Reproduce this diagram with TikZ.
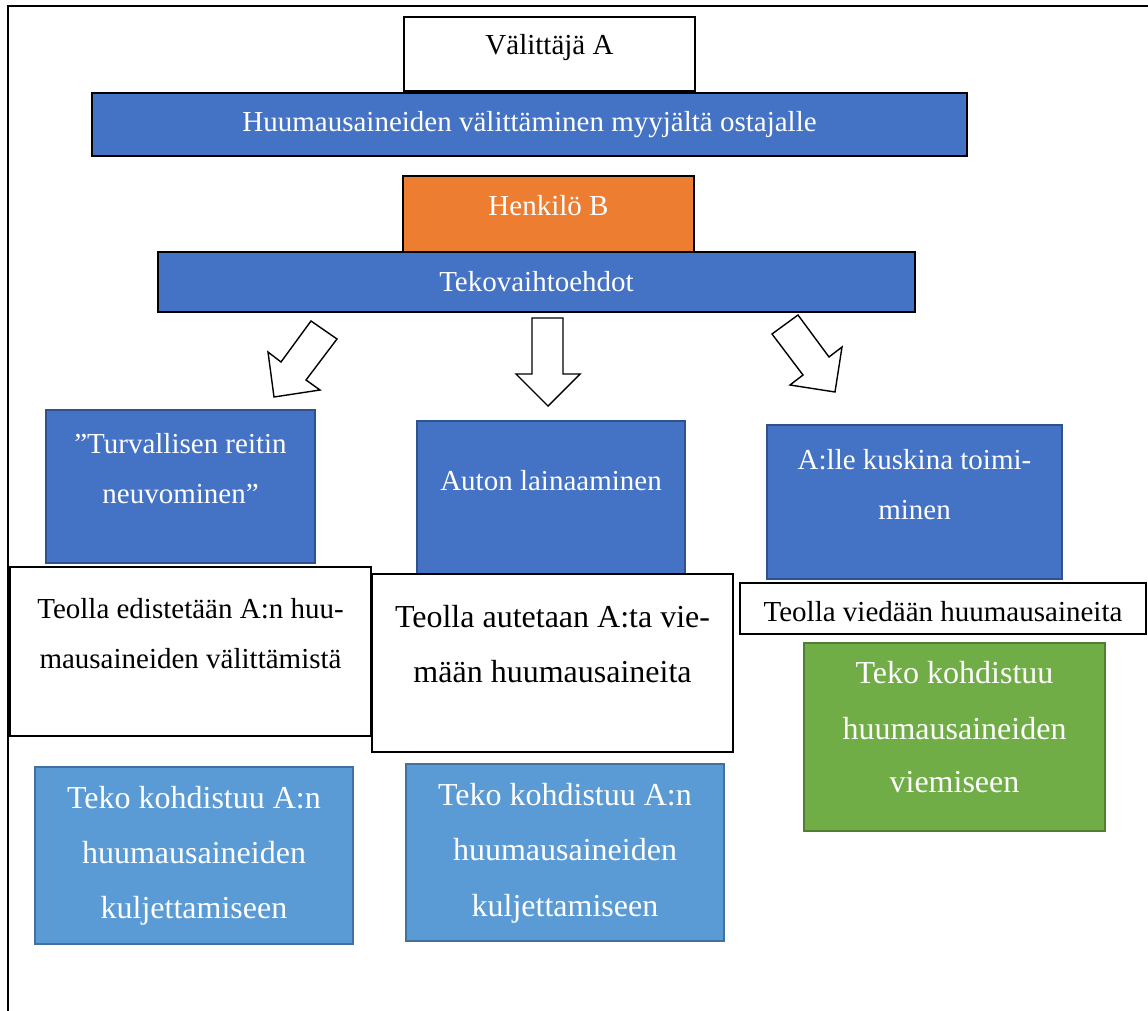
\documentclass[tikz,border=0pt]{standalone}
\usepackage{fontspec}
\setmainfont{Liberation Serif}
\usetikzlibrary{fit}
\definecolor{wblue}{HTML}{4472C4}
\definecolor{wblueline}{HTML}{2F528F}
\definecolor{worange}{HTML}{ED7D31}
\definecolor{wlight}{HTML}{5B9BD5}
\definecolor{wlightline}{HTML}{41719C}
\definecolor{wgreen}{HTML}{70AD47}
\definecolor{wgreenline}{HTML}{507E32}

\begin{document}
\begin{tikzpicture}[x=1pt,y=-1pt,
  panel/.style={inner sep=0pt, outer sep=0pt},
  whitebox/.style={panel, draw=black, line width=1.6pt, fill=white},
  barbox/.style={panel, draw=black, line width=1.6pt, fill=wblue},
  orangebox/.style={panel, draw=black, line width=1.6pt, fill=worange},
  optbox/.style={panel, draw=wblueline, line width=1.4pt, fill=wblue},
  lightbox/.style={panel, draw=wlightline, line width=1.4pt, fill=wlight},
  greenbox/.style={panel, draw=wgreenline, line width=1.4pt, fill=wgreen},
  txt/.style={inner sep=0pt, anchor=base, font=\fontsize{29}{29}\selectfont},
  bigtxt/.style={inner sep=0pt, anchor=base, font=\fontsize{32}{32}\selectfont},
  ontint/.style={text=white},
  blockarrow/.style={draw=black, line width=1.4pt, fill=white, line join=miter},
]
\useasboundingbox (0,0) rectangle (1148,1011);
\fill[white] (0,0) rectangle (1148,1011);

% page frame (left and top edges)
\draw[line width=1.5pt] (8,1011) -- (8,6) -- (1148,6);

% top level
\node[whitebox, fit={(404,17)(695,91)}] (va) {};
\node[txt] (va-t) at (va.center |- 0,55) {Välittäjä A};
\node[barbox, fit={(92,93)(967,156)}] (huum) {};
\node[txt, ontint] (huum-t) at (huum.center |- 0,132) {Huumausaineiden välittäminen myyjältä ostajalle};

\node[orangebox, fit={(403,176)(694,252)}] (henk) {};
\node[txt, ontint] (henk-t) at (henk.center |- 0,215) {Henkilö B};
\node[barbox, fit={(158,252)(915,312)}] (teko) {};
\node[txt, ontint] (teko-t) at (teko.center |- 0,291) {Tekovaihtoehdot};

% block arrows
\draw[blockarrow] (311,321) -- (337,339) -- (306,380) -- (320,390) -- (274,397) -- (268,352) -- (281,362) -- cycle;
\draw[blockarrow] (532,318) -- (563,318) -- (563,374) -- (580,374) -- (548,406) -- (516,374) -- (532,374) -- cycle;
\draw[blockarrow] (798,315) -- (829,357) -- (842,347) -- (835,392) -- (790,385) -- (803,375) -- (772,334) -- cycle;

% option boxes
\node[optbox, fit={(46,410)(315,563)}] (turva) {};
\node[txt, ontint] (turva-t1) at (turva.center |- 0,453) {”Turvallisen reitin};
\node[txt, ontint] (turva-t2) at (turva.center |- 0,503) {neuvominen”};

\node[optbox, fit={(417,421)(685,574)}] (auto) {};
\node[txt, ontint] (auto-t) at (auto.center |- 0,490) {Auton lainaaminen};

\node[optbox, fit={(767,425)(1062,579)}] (kuski) {};
\node[txt, ontint] (kuski-t1) at (kuski.center |- 0,469) {A:lle kuskina toimi-};
\node[txt, ontint] (kuski-t2) at (kuski.center |- 0,519) {minen};

% descriptions
\node[whitebox, fit={(10,567)(371,736)}] (edist) {};
\node[txt] (edist-t1) at (edist.center |- 0,618) {Teolla edistetään A:n huu-};
\node[txt] (edist-t2) at (edist.center |- 0,668) {mausaineiden välittämistä};

\node[whitebox, fit={(372,574)(733,752)}] (autet) {};
\node[bigtxt] (autet-t1) at (autet.center |- 0,627) {Teolla autetaan A:ta vie-};
\node[bigtxt] (autet-t2) at (autet.center |- 0,682) {mään huumausaineita};

\node[whitebox, fit={(740,583)(1146,634)}] (vied) {};
\node[txt] (vied-t) at (vied.center |- 0,621) {Teolla viedään huumausaineita};

% conclusions
\node[greenbox, fit={(804,643)(1105,831)}] (viem) {};
\node[bigtxt, ontint] (viem-t1) at (viem.center |- 0,683) {Teko kohdistuu};
\node[bigtxt, ontint] (viem-t2) at (viem.center |- 0,739) {huumausaineiden};
\node[bigtxt, ontint] (viem-t3) at (viem.center |- 0,792) {viemiseen};

\node[lightbox, fit={(35,767)(353,944)}] (kulj1) {};
\node[bigtxt, ontint] (kulj1-t1) at (kulj1.center |- 0,808) {Teko kohdistuu A:n};
\node[bigtxt, ontint] (kulj1-t2) at (kulj1.center |- 0,863) {huumausaineiden};
\node[bigtxt, ontint] (kulj1-t3) at (kulj1.center |- 0,918) {kuljettamiseen};

\node[lightbox, fit={(406,764)(724,941)}] (kulj2) {};
\node[bigtxt, ontint] (kulj2-t1) at (kulj2.center |- 0,805) {Teko kohdistuu A:n};
\node[bigtxt, ontint] (kulj2-t2) at (kulj2.center |- 0,860) {huumausaineiden};
\node[bigtxt, ontint] (kulj2-t3) at (kulj2.center |- 0,916) {kuljettamiseen};
\end{tikzpicture}
\end{document}
